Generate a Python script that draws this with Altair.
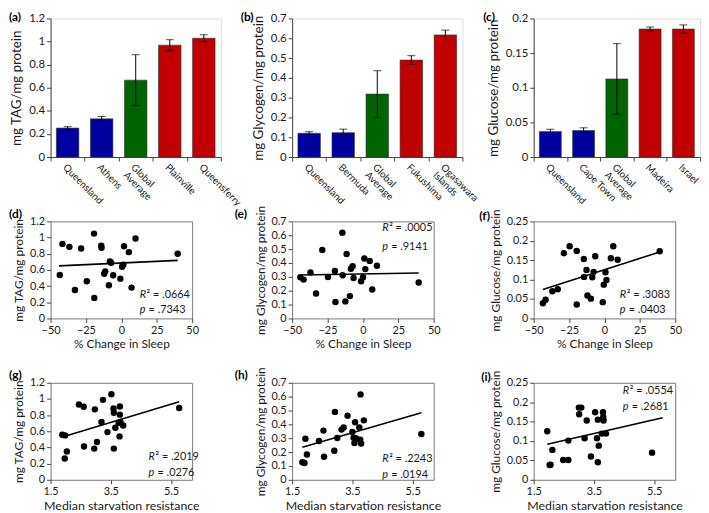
import altair as alt
import pandas as pd

FONT = "Lato"
TXT = "#1a1a1a"

# ---------------- bar panel data ----------------
groups = ["low", "low", "avg", "high", "high"]
grp_domain = ["low", "avg", "high"]
grp_colors = ["#0000A0", "#006400", "#C00000"]

tag_pops = ["Queensland", "Athens", "Global|Average", "Plainville", "Queensferry"]
tag_mean = [0.251, 0.331, 0.666, 0.969, 1.029]
tag_err = [0.012, 0.020, 0.220, 0.047, 0.030]

gly_pops = ["Queensland", "Bermuda", "Global|Average", "Fukushima", "Ogasawara|Islands"]
gly_mean = [0.120, 0.123, 0.318, 0.490, 0.617]
gly_err = [0.008, 0.018, 0.118, 0.022, 0.024]

glu_pops = ["Queensland", "Cape Town", "Global|Average", "Madeira", "Israel"]
glu_mean = [0.0368, 0.0382, 0.1127, 0.1847, 0.1847]
glu_err = [0.0033, 0.0040, 0.0510, 0.0030, 0.0060]

# ---------------- scatter data ----------------
sleep_tag_x = [-43.5, -41.6, -36.7, -32.8, -28.4, -24.4, -19.3, -19.1, -14.2, -14.0, -12.1, -11.4,
               -8.8, -8.1, -7.2, -5.8, -0.7, 0.5, 1.4, 1.9, 5.3, 7.2, 10.0, 39.8]
sleep_tag_y = [0.537, 0.922, 0.885, 0.352, 0.865, 0.459, 1.049, 0.254, 0.900, 0.873, 0.553, 0.582,
               0.410, 0.705, 0.689, 0.533, 0.492, 0.639, 0.664, 0.893, 0.820, 0.381, 0.988, 0.800]

sleep_gly_x = [-44.2, -41.9, -37.0, -33.1, -28.7, -24.7, -19.8, -19.4, -14.5, -14.3, -12.4, -11.5,
               -9.2, -8.5, -7.3, -6.6, -1.3, 0.1, 1.0, 1.7, 4.8, 6.6, 9.9, 39.4]
sleep_gly_y = [0.297, 0.280, 0.332, 0.180, 0.494, 0.299, 0.342, 0.119, 0.619, 0.311, 0.123, 0.465,
               0.161, 0.358, 0.377, 0.292, 0.268, 0.297, 0.432, 0.356, 0.415, 0.209, 0.380, 0.259]

sleep_glu_x = [-43.5, -41.6, -36.8, -33.0, -28.7, -24.6, -19.6, -19.6, -14.6, -14.4, -12.7, -12.0,
               -9.6, -8.6, -7.7, -6.5, -1.2, -0.5, 0.7, 1.4, 4.5, 6.2, 9.3, 39.0]
sleep_glu_y = [0.039, 0.048, 0.070, 0.075, 0.168, 0.186, 0.174, 0.036, 0.153, 0.107, 0.125, 0.059,
               0.051, 0.106, 0.120, 0.160, 0.042, 0.087, 0.119, 0.099, 0.155, 0.186, 0.151, 0.173]

starv_tag_x = [1.89, 1.98, 1.97, 2.04, 2.44, 2.60, 2.61, 2.97, 2.95, 3.04, 3.19, 3.24, 3.39,
               3.52, 3.59, 3.60, 3.60, 3.65, 3.76, 3.80, 3.80, 3.79, 3.82, 3.91, 5.77]
starv_tag_y = [0.557, 0.549, 0.264, 0.350, 0.932, 0.903, 0.411, 0.871, 0.386, 0.468, 0.716, 0.989,
               0.590, 1.058, 0.883, 0.830, 0.386, 0.643, 0.704, 0.907, 0.806, 0.537, 0.716, 0.671, 0.887]

starv_gly_x = [1.84, 1.91, 1.94, 1.99, 2.39, 2.54, 2.56, 2.90, 2.92, 3.00, 3.14, 3.21, 3.34,
               3.50, 3.54, 3.57, 3.59, 3.63, 3.73, 3.76, 3.77, 3.79, 3.88, 5.79]
starv_gly_y = [0.126, 0.121, 0.296, 0.182, 0.280, 0.355, 0.166, 0.210, 0.490, 0.301, 0.362, 0.378,
               0.462, 0.345, 0.303, 0.266, 0.415, 0.299, 0.378, 0.289, 0.616, 0.261, 0.429, 0.331]

starv_glu_x = [1.95, 2.03, 2.06, 2.12, 2.48, 2.65, 2.65, 3.00, 3.08, 3.01, 3.19, 3.26, 3.40,
               3.54, 3.60, 3.63, 3.63, 3.66, 3.76, 3.79, 3.80, 3.81, 3.82, 3.90, 5.43]
starv_glu_y = [0.125, 0.038, 0.039, 0.077, 0.051, 0.051, 0.101, 0.186, 0.186, 0.169, 0.107, 0.153,
               0.060, 0.174, 0.107, 0.045, 0.155, 0.088, 0.119, 0.157, 0.174, 0.162, 0.153, 0.119, 0.070]

# x-range covered by each fitted trend line (as drawn in the figure)
trend_extent = {
    "d": [-44.0, 39.8], "e": [-44.2, 39.4], "f": [-43.5, 39.0],
    "g": [1.89, 5.77], "h": [1.84, 5.79], "i": [1.95, 5.78],
}

# axis ticks
tag_ticks = [0, 0.2, 0.4, 0.6, 0.8, 1.0, 1.2]
gly_ticks = [0, 0.1, 0.2, 0.3, 0.4, 0.5, 0.6, 0.7]
glu_ticks_bar = [0, 0.05, 0.1, 0.15, 0.2]
glu_ticks_sc = [0, 0.05, 0.1, 0.15, 0.2, 0.25]
sleep_ticks = [-50, -25, 0, 25, 50]
starv_ticks = [1.5, 3.5, 5.5]

BAR_H = 140
SC_W, SC_H = 143, 98


def panel_label(text, dx, dy):
    return alt.Chart(pd.DataFrame({"t": [text]})).mark_text(
        font=FONT, fontSize=12, fontWeight="bold", color="black", align="left", baseline="top"
    ).encode(text="t:N", x=alt.value(dx), y=alt.value(dy))


def bar_panel(pops, means, errs, ytitle, ymax, yticks, label, lpos, width):
    df = pd.DataFrame({
        "pop": pops, "mean": means,
        "lo": [m - e for m, e in zip(means, errs)],
        "hi": [m + e for m, e in zip(means, errs)],
        "grp": groups,
    })
    xenc = alt.X("pop:N", sort=pops, title=None,
                 scale=alt.Scale(paddingInner=0, paddingOuter=0),
                 axis=alt.Axis(labelAngle=45, labelExpr="split(datum.label, '|')",
                               tickBand="extent", tickSize=4, labelFontSize=10,
                               labelFont=FONT, labelColor=TXT, labelPadding=1,
                               labelOverlap=False, labelLineHeight=11,
                               domainColor="#444", tickColor="#444"))
    yenc = alt.Y("mean:Q", scale=alt.Scale(domain=[0, ymax], nice=False),
                 axis=alt.Axis(values=yticks, tickCount=40, format=".2~f", title=ytitle, grid=False,
                               tickSize=4, labelFontSize=11.5, labelFont=FONT, labelColor=TXT,
                               labelOverlap=False, labelFlush=False,
                               titleFont=FONT, titleFontSize=13.5, titleFontWeight="normal",
                               titleColor=TXT, titlePadding=5,
                               domainColor="#444", tickColor="#444"))
    base = alt.Chart(df)
    bars = base.mark_bar(width=alt.RelativeBandSize(0.66), stroke="#333", strokeWidth=0.6).encode(
        x=xenc, y=yenc,
        color=alt.Color("grp:N", scale=alt.Scale(domain=grp_domain, range=grp_colors), legend=None))
    xs = alt.X("pop:N", sort=pops)
    rule = base.mark_rule(color="black", strokeWidth=1).encode(x=xs, y="lo:Q", y2="hi:Q")
    cap_lo = base.mark_tick(orient="horizontal", size=8, thickness=1, color="black").encode(x=xs, y="lo:Q")
    cap_hi = base.mark_tick(orient="horizontal", size=8, thickness=1, color="black").encode(x=xs, y="hi:Q")
    return alt.layer(bars, rule, cap_lo, cap_hi, panel_label(label, *lpos)).properties(
        width=width, height=BAR_H)


def scatter_panel(xs, ys, xdom, xticks, xtitle, xtitle_size, ydom, yticks, ytitle,
                  label, lpos, r2, pval, apos, extent):
    df = pd.DataFrame({"x": xs, "y": ys})
    xenc = alt.X("x:Q", scale=alt.Scale(domain=xdom, nice=False, zero=False),
                 axis=alt.Axis(values=xticks, tickCount=40, format=".2~f", title=xtitle, grid=False,
                               tickSize=4, labelFontSize=11, labelFont=FONT, labelColor=TXT,
                               labelOverlap=False, labelFlush=False, labelPadding=2,
                               titleFont=FONT, titleFontSize=xtitle_size, titleFontWeight="normal",
                               titleColor=TXT, titlePadding=3, domain=False, tickColor="#444"))
    yenc = alt.Y("y:Q", scale=alt.Scale(domain=ydom, nice=False, zero=False),
                 axis=alt.Axis(values=yticks, tickCount=40, format=".2~f", title=ytitle, grid=False,
                               tickSize=4, labelFontSize=11, labelFont=FONT, labelColor=TXT,
                               labelOverlap=False, labelFlush=False,
                               titleFont=FONT, titleFontSize=12, titleFontWeight="normal",
                               titleColor=TXT, titlePadding=4, domain=False, tickColor="#444"))
    base = alt.Chart(df)
    pts = base.mark_circle(size=42, color="black", opacity=1).encode(x=xenc, y=yenc)
    line = base.transform_regression("x", "y", extent=extent).mark_line(
        color="black", strokeWidth=1.6).encode(x="x:Q", y="y:Q")
    ax, ay1, ay2 = apos
    ann = pd.DataFrame({"t": [""]})

    def txt(t, x, y, italic=False):
        return alt.Chart(ann).mark_text(
            font=FONT, fontSize=11, color=TXT, align="left", baseline="middle",
            fontStyle="italic" if italic else "normal"
        ).encode(text=alt.value(t), x=alt.value(x), y=alt.value(y))

    texts = [txt("R", ax, ay1, True), txt("\u00b2 = " + r2, ax + 7, ay1),
             txt("p", ax, ay2, True), txt("= " + pval, ax + 9, ay2)]
    return alt.layer(pts, line, *texts, panel_label(label, *lpos)).properties(
        width=SC_W, height=SC_H, view=alt.ViewBackground(stroke="#777", strokeWidth=1))


pa = bar_panel(tag_pops, tag_mean, tag_err, "mg TAG/mg protein", 1.2, tag_ticks, "(a)", (-42, -6), 172)
pb = bar_panel(gly_pops, gly_mean, gly_err, "mg Glycogen/mg protein", 0.7, gly_ticks, "(b)", (-52, -6), 172)
pc = bar_panel(glu_pops, glu_mean, glu_err, "mg Glucose/mg protein", 0.2, glu_ticks_bar, "(c)", (-51, -6), 168)

pd_ = scatter_panel(sleep_tag_x, sleep_tag_y, [-50, 50], sleep_ticks, "% Change in Sleep", 12,
                    [0, 1.2], tag_ticks, "mg TAG/mg protein", "(d)", (-42, -12),
                    ".0664", ".7343", (90, 74, 90), trend_extent["d"])
pe = scatter_panel(sleep_gly_x, sleep_gly_y, [-50, 50], sleep_ticks, "% Change in Sleep", 12,
                   [0, 0.7], gly_ticks, "mg Glycogen/mg protein", "(e)", (-58, -12),
                   ".0005", ".9141", (91, 7, 26), trend_extent["e"])
pf = scatter_panel(sleep_glu_x, sleep_glu_y, [-50, 50], sleep_ticks, "% Change in Sleep", 12,
                   [0, 0.25], glu_ticks_sc, "mg Glucose/mg protein", "(f)", (-55, -10),
                   ".3083", ".0403", (87, 74, 90), trend_extent["f"])
pg = scatter_panel(starv_tag_x, starv_tag_y, [1.5, 6.2], starv_ticks, "Median starvation resistance", 12.5,
                   [0, 1.2], tag_ticks, "mg TAG/mg protein", "(g)", (-42, -13),
                   ".2019", ".0276", (99, 75, 91), trend_extent["g"])
ph = scatter_panel(starv_gly_x, starv_gly_y, [1.5, 6.2], starv_ticks, "Median starvation resistance", 12.5,
                   [0, 0.7], gly_ticks, "mg Glycogen/mg protein", "(h)", (-58, -13),
                   ".2243", ".0194", (91, 77, 93), trend_extent["h"])
pi = scatter_panel(starv_glu_x, starv_glu_y, [1.5, 6.2], starv_ticks, "Median starvation resistance", 12.5,
                   [0, 0.25], glu_ticks_sc, "mg Glucose/mg protein", "(i)", (-53, -11),
                   ".0554", ".2681", (90, 8, 25), trend_extent["i"])

chart = alt.concat(pa, pb, pc, pd_, pe, pf, pg, ph, pi, columns=3,
                   spacing=alt.RowColnumber(row=65, column=72), align="each",
                   bounds="flush").properties(
    padding={"left": 0, "top": 0, "right": 0, "bottom": 0}
).configure_view(stroke=None).configure_axis(
    labelOverlap=False, labelFlush=False
).configure(background="white")

chart.save("out.html", embed_options={"renderer": "svg", "actions": False})
